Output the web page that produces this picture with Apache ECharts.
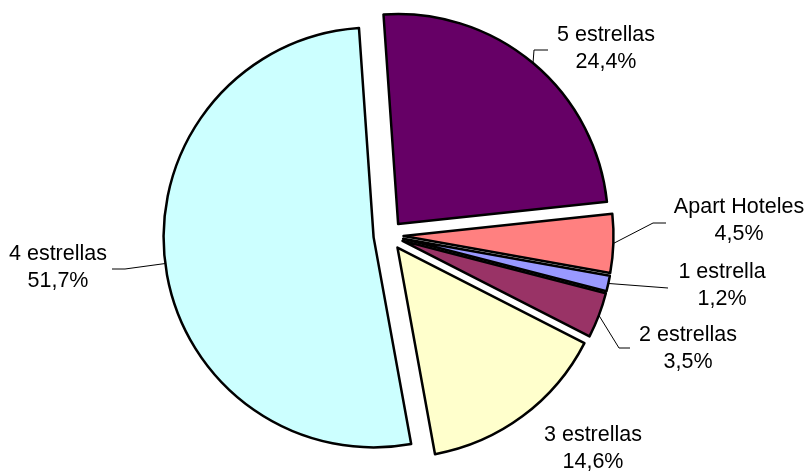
<!DOCTYPE html>
<html><head><meta charset="utf-8">
<script src="https://cdn.jsdelivr.net/npm/echarts@6/dist/echarts.min.js"></script>
<style>html,body{margin:0;padding:0;background:#fff}#c{width:808px;height:473px}</style>
</head><body><div id="c"></div>
<script>
const categories = ['5 estrellas', 'Apart Hoteles', '1 estrella', '2 estrellas', '3 estrellas', '4 estrellas'];
const values = [24.4, 4.5, 1.2, 3.5, 14.6, 51.7];
const colors = ['#660066', '#FF8080', '#9999FF', '#993366', '#FFFFCC', '#CCFFFF'];

// layout settings (pixels)
const PIE_CX = 388.5, PIE_CY = 235.5, RADIUS = 210, EXPLODE = 15, START = 94;
const labelPos = [[606, 49], [739, 221], [722, 286], [688, 349], [593, 449], [58, 268]];
const labelElbow = [
  [[534, 50], [548, 50]],
  [[653, 223], [666, 223]],
  [[668, 288]],
  [[619, 348], [630, 348]],
  null,
  [[125, 269], [112, 269]]
];

const total = values.reduce((a, b) => a + b, 0);
let acc = 0;
const series = values.map((v, i) => {
  const mid = (START - 360 * (acc + v / 2) / total) * Math.PI / 180;
  acc += v;
  return {
    type: 'pie',
    silent: true,
    animation: false,
    startAngle: START,
    clockwise: true,
    center: [PIE_CX + EXPLODE * Math.cos(mid), PIE_CY - EXPLODE * Math.sin(mid)],
    radius: RADIUS,
    avoidLabelOverlap: false,
    minAngle: 0,
    data: categories.map((name, j) => ({
      name: name,
      value: values[j],
      itemStyle: j === i
        ? { color: colors[j], borderColor: '#000', borderWidth: 2.5 }
        : { color: 'rgba(0,0,0,0)', borderWidth: 0 },
      label: { show: j === i },
      labelLine: { show: j === i && labelElbow[j] != null }
    })),
    label: {
      position: 'outside',
      color: '#000',
      fontFamily: 'Liberation Sans, Arial, sans-serif',
      fontSize: 21.5,
      lineHeight: 27,
      align: 'center',
      formatter: p => p.name + '\n' + p.value.toFixed(1).replace('.', ',') + '%'
    },
    labelLine: { show: true, lineStyle: { color: '#000', width: 1 } },
    labelLayout: p => {
      if (p.dataIndex !== i) return {};
      const out = { x: labelPos[i][0], y: labelPos[i][1], align: 'center', verticalAlign: 'middle' };
      if (labelElbow[i] && p.labelLinePoints) {
        out.labelLinePoints = [p.labelLinePoints[0]].concat(labelElbow[i]);
      }
      return out;
    }
  };
});

const chart = echarts.init(document.getElementById('c'), null, { renderer: 'canvas' });
chart.setOption({ backgroundColor: '#fff', animation: false, series: series });
</script>
</body></html>
